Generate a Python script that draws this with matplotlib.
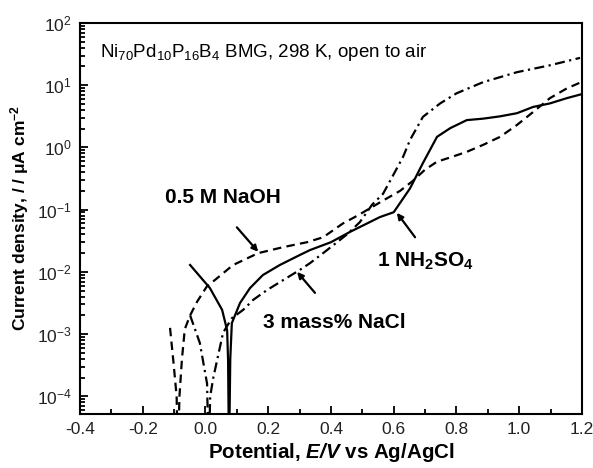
import matplotlib
matplotlib.use("Agg")
import matplotlib.pyplot as plt
from matplotlib.ticker import FixedLocator, LogLocator, MultipleLocator, NullFormatter

plt.rcParams['font.family'] = ['Liberation Sans', 'DejaVu Sans']
plt.rcParams['mathtext.fontset'] = 'custom'
plt.rcParams['mathtext.rm'] = 'Liberation Sans'
plt.rcParams['mathtext.it'] = 'Liberation Sans:italic'
plt.rcParams['mathtext.bf'] = 'Liberation Sans:bold'
plt.rcParams['mathtext.bfit'] = 'Liberation Sans:bold:italic'

# ---- data (potential in V vs Ag/AgCl, current density in uA cm^-2) ----
h2so4_E = [-0.049, 0.014, 0.053, 0.069, 0.072, 0.075, 0.079, 0.084, 0.11, 0.142,
           0.183, 0.237, 0.30, 0.333, 0.40, 0.461, 0.556, 0.60, 0.652, 0.693,
           0.738, 0.78, 0.833, 0.885, 0.939, 0.993, 1.044, 1.098, 1.152, 1.20]
h2so4_i = [1.29e-2, 5.5e-3, 2.45e-3, 1.15e-3, 3.8e-4, 1e-5, 4e-4, 1.5e-3, 3.16e-3, 5.5e-3,
           8.9e-3, 1.29e-2, 1.86e-2, 2.24e-2, 3.0e-2, 4.4e-2, 7.6e-2, 9.1e-2, 0.22, 0.56,
           1.48, 2.04, 2.75, 2.9, 3.16, 3.55, 4.47, 5.1, 6.2, 7.2]

naoh_E = [-0.113, -0.102, -0.092, -0.088, -0.083, -0.075, -0.066, -0.049, -0.027, 0.004,
          0.03, 0.088, 0.168, 0.248, 0.324, 0.375, 0.438, 0.486, 0.566, 0.62,
          0.661, 0.70, 0.738, 0.78, 0.833, 0.885, 0.939, 0.993, 1.044, 1.098,
          1.152, 1.194]
naoh_i = [1.26e-3, 3.5e-4, 1e-4, 1e-5, 1e-4, 4e-4, 1.2e-3, 2.0e-3, 3.3e-3, 5.8e-3,
          7.4e-3, 1.29e-2, 2.0e-2, 2.5e-2, 3.0e-2, 3.6e-2, 6.0e-2, 8.1e-2, 0.14, 0.20,
          0.29, 0.44, 0.59, 0.69, 0.85, 1.10, 1.48, 2.3, 3.7, 6.2,
          8.9, 11.0]

nacl_E = [-0.049, -0.018, 0.005, 0.010, 0.015, 0.025, 0.037, 0.056, 0.084, 0.12,
          0.152, 0.196, 0.248, 0.30, 0.333, 0.375, 0.451, 0.492, 0.531, 0.566,
          0.59, 0.63, 0.652, 0.693, 0.748, 0.80, 0.885, 0.993, 1.098, 1.194]
nacl_i = [2.0e-3, 7.2e-4, 1.6e-4, 1e-5, 1e-4, 2.0e-4, 3.8e-4, 1.05e-3, 1.8e-3, 2.45e-3,
          3.55e-3, 5.1e-3, 7.4e-3, 1.07e-2, 1.38e-2, 2.0e-2, 4.0e-2, 6.3e-2, 0.12, 0.18,
          0.30, 0.71, 1.32, 3.1, 5.1, 7.4, 11.2, 16.2, 20.9, 27.5]

x_ticks = [-0.4, -0.2, 0.0, 0.2, 0.4, 0.6, 0.8, 1.0, 1.2]
x_ticklabels = ['-0.4', '-0.2', '0.0', '0.2', '0.4', '0.6', '0.8', '1.0', '1.2']
y_ticks = [1e-4, 1e-3, 1e-2, 1e-1, 1e0, 1e1, 1e2]
y_ticklabels = [r'$10^{-4}$', r'$10^{-3}$', r'$10^{-2}$', r'$10^{-1}$',
                r'$10^{0}$', r'$10^{1}$', r'$10^{2}$']

fig = plt.figure(figsize=(5.93, 4.68), dpi=100)
ax = fig.add_axes([0.1349, 0.1154, 0.8465, 0.8355])

lw = 1.6
ax.plot(h2so4_E, h2so4_i, color='black', lw=lw, linestyle='-')
ax.plot(naoh_E, naoh_i, color='black', lw=lw, linestyle=(0, (3.8, 2.4)))
ax.plot(nacl_E, nacl_i, color='black', lw=lw, linestyle=(0, (4.5, 2.0, 1.0, 2.0)))

ax.set_yscale('log')
ax.set_xlim(-0.4, 1.2)
ax.set_ylim(5.2e-5, 1e2)

ax.xaxis.set_major_locator(FixedLocator(x_ticks))
ax.set_xticklabels(x_ticklabels)
ax.xaxis.set_minor_locator(MultipleLocator(0.1))
ax.yaxis.set_major_locator(FixedLocator(y_ticks))
ax.set_yticklabels(y_ticklabels)
ax.yaxis.set_minor_locator(LogLocator(base=10, subs=range(2, 10), numticks=20))
ax.yaxis.set_minor_formatter(NullFormatter())

ax.tick_params(which='both', direction='in', top=False, right=False,
               labelsize=12.5, labelcolor='#222222', width=1.3)
ax.tick_params(which='major', length=6, pad=6)
ax.tick_params(which='minor', length=3.5)
for s in ax.spines.values():
    s.set_linewidth(1.5)

ax.set_xlabel(r'Potential, $\mathbfit{E/V}$ vs Ag/AgCl', fontsize=14.8,
              fontweight='bold', labelpad=3)
ax.set_ylabel(r'Current density, / / $\mathbf{\mu}$A cm$^{\mathbf{-2}}$', fontsize=12.5,
              fontweight='bold', labelpad=4)

ax.text(-0.336, 34, r'Ni$_{70}$Pd$_{10}$P$_{16}$B$_{4}$ BMG, 298 K, open to air',
        fontsize=13.5, va='center', ha='left')
ax.text(-0.128, 0.155, '0.5 M NaOH', fontsize=15, fontweight='bold',
        va='center', ha='left')
ax.text(0.546, 0.0145, r'1 NH$_{\mathbf{2}}$SO$_{\mathbf{4}}$', fontsize=15,
        fontweight='bold', va='center', ha='left')
ax.text(0.183, 0.00155, '3 mass% NaCl', fontsize=15, fontweight='bold',
        va='center', ha='left')

arrow = dict(arrowstyle='-|>', color='black', lw=1.6, mutation_scale=9,
             shrinkA=0, shrinkB=0)
ax.annotate('', xy=(0.168, 0.021), xytext=(0.100, 0.052), arrowprops=arrow)
ax.annotate('', xy=(0.61, 0.089), xytext=(0.668, 0.036), arrowprops=arrow)
ax.annotate('', xy=(0.292, 0.010), xytext=(0.349, 0.0046), arrowprops=arrow)

fig.savefig('out.png', dpi=100)
